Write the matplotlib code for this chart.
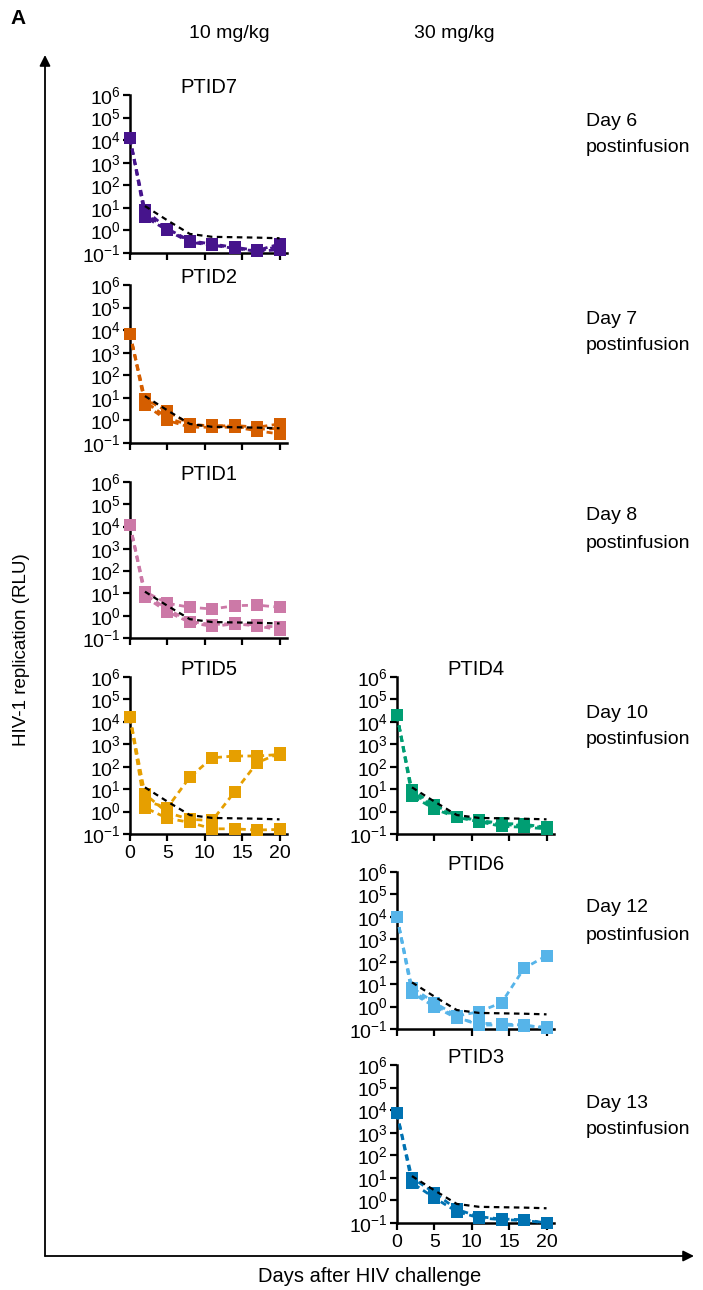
import numpy as np
import matplotlib
matplotlib.use('Agg')
import matplotlib.pyplot as plt

plt.rcParams['font.family'] = ['Liberation Sans', 'DejaVu Sans']
plt.rcParams['mathtext.fontset'] = 'custom'
plt.rcParams['mathtext.rm'] = 'Liberation Sans'

# DADOS

days = [0, 2, 5, 8, 11, 14, 17, 20]
ref_days = [2, 5, 8, 11, 14, 17, 20]
ref_rlu = [12, 2.8, 0.7, 0.52, 0.5, 0.48, 0.45]

ptid7_rlu = [[12000, 8, 1.2, 0.35, 0.25, 0.18, 0.13, 0.25],
             [12000, 4, 1.0, 0.3, 0.22, 0.16, 0.12, 0.14],
             [12000, 5.5, 1.1, 0.33, 0.23, 0.17, 0.12, 0.2]]
ptid2_rlu = [[7000, 9, 2.5, 0.7, 0.55, 0.6, 0.5, 0.7],
             [7000, 5, 1.0, 0.5, 0.5, 0.5, 0.35, 0.25],
             [7000, 7, 1.3, 0.6, 0.6, 0.55, 0.4, 0.45]]
ptid1_rlu = [[12000, 12, 3.6, 2.4, 2.0, 2.8, 3.0, 2.4],
             [12000, 7, 1.5, 0.5, 0.33, 0.43, 0.35, 0.23],
             [12000, 9, 2.0, 0.55, 0.4, 0.45, 0.38, 0.3]]
ptid5_rlu = [[16000, 3, 1.5, 34, 250, 300, 300, 350],
             [16000, 6, 0.9, 0.45, 0.4, 7.6, 150, 400],
             [16000, 1.5, 0.5, 0.33, 0.17, 0.17, 0.15, 0.16]]
ptid4_rlu = [[20000, 9, 2.0, 0.6, 0.4, 0.3, 0.27, 0.2],
             [20000, 5, 1.3, 0.55, 0.35, 0.22, 0.2, 0.17],
             [20000, 7, 1.6, 0.6, 0.38, 0.26, 0.24, 0.19]]
ptid6_rlu = [[10000, 7, 1.5, 0.38, 0.59, 1.5, 51, 185],
             [10000, 4, 1.0, 0.3, 0.18, 0.17, 0.15, 0.11],
             [10000, 5, 1.2, 0.33, 0.15, 0.15, 0.14, 0.12]]
ptid3_rlu = [[7200, 10, 2.2, 0.4, 0.19, 0.15, 0.14, 0.1],
             [7200, 6, 1.3, 0.32, 0.17, 0.14, 0.13, 0.1]]

ytick_vals = [1e-1, 1e0, 1e1, 1e2, 1e3, 1e4, 1e5, 1e6]
ytick_labels = [r'$\mathregular{10^{-1}}$', r'$\mathregular{10^{0}}$', r'$\mathregular{10^{1}}$',
                r'$\mathregular{10^{2}}$', r'$\mathregular{10^{3}}$', r'$\mathregular{10^{4}}$',
                r'$\mathregular{10^{5}}$', r'$\mathregular{10^{6}}$']
xtick_vals = [0, 5, 10, 15, 20]

# nome, dados, cor, coluna (esq/dir), topo, base, mostra eixo x
paineis = [
    ('PTID7', ptid7_rlu, '#46148c', 'L', 95, 253, False),
    ('PTID2', ptid2_rlu, '#d55e00', 'L', 285, 443, False),
    ('PTID1', ptid1_rlu, '#cc79a7', 'L', 482, 638, False),
    ('PTID5', ptid5_rlu, '#e69f00', 'L', 677, 834, True),
    ('PTID4', ptid4_rlu, '#009e73', 'R', 677, 834, False),
    ('PTID6', ptid6_rlu, '#56b4e9', 'R', 872, 1029, False),
    ('PTID3', ptid3_rlu, '#0072b2', 'R', 1065, 1223, True),
]

W, H = 703, 1290
fig = plt.figure(figsize=(W / 100, H / 100), dpi=100)

# FUNDO COM SETAS E TEXTOS

bg = fig.add_axes([0, 0, 1, 1])
bg.set_xlim(0, W)
bg.set_ylim(H, 0)
bg.axis('off')

seta = dict(arrowstyle='-|>', mutation_scale=16, lw=1.3, color='black', shrinkA=0, shrinkB=0)
bg.annotate('', xy=(45, 55), xytext=(45, 1256), arrowprops=seta)
bg.annotate('', xy=(694, 1256), xytext=(45, 1256), arrowprops=seta)

bg.text(10, 18, 'A', fontsize=15, fontweight='bold', va='center', ha='left')
bg.text(229, 33, '10 mg/kg', fontsize=14, va='center', ha='center')
bg.text(454, 33, '30 mg/kg', fontsize=14, va='center', ha='center')
bg.text(22, 650, 'HIV-1 replication (RLU)', fontsize=13.5, rotation=90, va='center', ha='center')
bg.text(370, 1277, 'Days after HIV challenge', fontsize=14.5, va='center', ha='center')

dia_y = {'Day 6': 121, 'Day 7': 319, 'Day 8': 516, 'Day 10': 713, 'Day 12': 908, 'Day 13': 1103}
for txt, yy in dia_y.items():
    bg.text(586, yy, txt, fontsize=14, va='center', ha='left')
    bg.text(586, yy + 27, 'postinfusion', fontsize=14, va='center', ha='left')

# PAINEIS

colunas = {'L': (130, 287), 'R': (397, 554)}

for nome, dados, cor, col, topo, base, mostra_x in paineis:
    esq, dir_ = colunas[col]
    ax = fig.add_axes([esq / W, 1 - base / H, (dir_ - esq) / W, (base - topo) / H])
    ax.patch.set_alpha(0)
    for serie in dados:
        ax.plot(days, serie, linestyle=(0, (2.2, 1.6)), lw=2, color=cor,
                marker='s', markersize=8, markeredgewidth=0, clip_on=False, zorder=3)
    ax.plot(ref_days, ref_rlu, linestyle=(0, (2.5, 2)), lw=1.6, color='black', zorder=4)

    ax.set_yscale('log')
    ax.set_ylim(1e-1, 1e6)
    ax.set_xlim(0, 21)
    ax.set_yticks(ytick_vals)
    ax.set_yticklabels(ytick_labels)
    ax.yaxis.set_minor_locator(matplotlib.ticker.NullLocator())
    ax.set_xticks(xtick_vals)
    if mostra_x:
        ax.set_xticklabels([str(v) for v in xtick_vals])
    else:
        ax.set_xticklabels([])
    ax.tick_params(axis='both', length=5, width=1.6, labelsize=14, direction='out')
    ax.tick_params(axis='y', pad=1.5)
    ax.tick_params(axis='x', pad=3)
    for lado in ['top', 'right']:
        ax.spines[lado].set_visible(False)
    for lado in ['left', 'bottom']:
        ax.spines[lado].set_linewidth(1.8)
    ax.text(0.5, 1.01, nome, transform=ax.transAxes, fontsize=14.5, ha='center', va='baseline')

fig.savefig('out.png', dpi=100)
